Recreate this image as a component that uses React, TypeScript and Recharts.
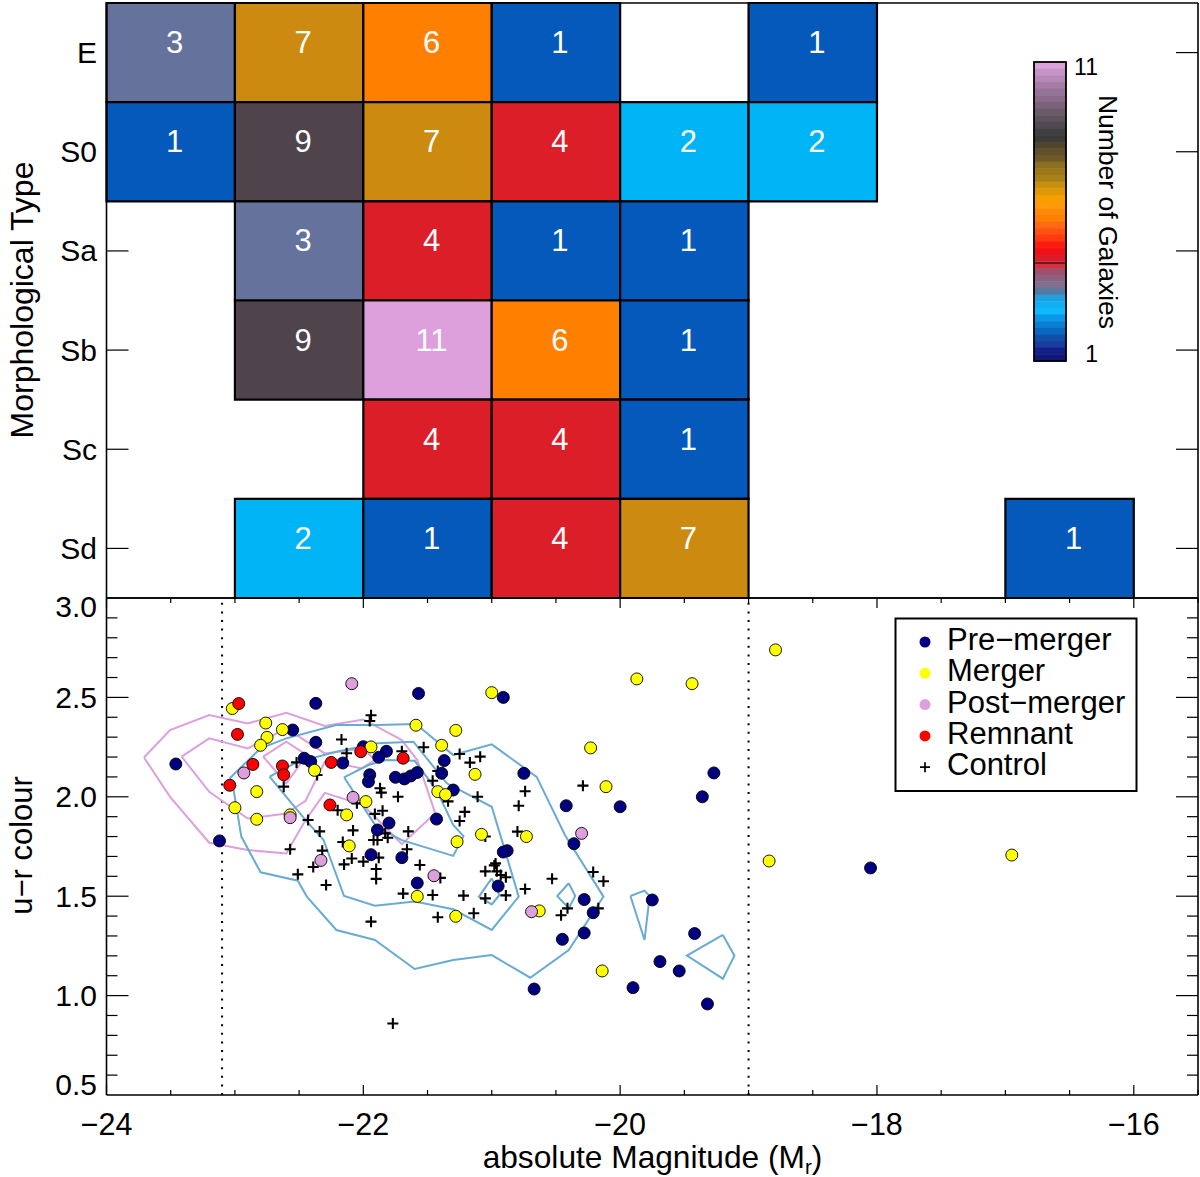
import React from "react";
import { ScatterChart, Scatter, XAxis, YAxis, ReferenceArea, ReferenceLine } from "recharts";

const FONT = "'Liberation Sans', Arial, sans-serif";

// ---- top panel: galaxy counts per magnitude bin and morphological type
const rowLabels = ["E", "S0", "Sa", "Sb", "Sc", "Sd"];
const binEdges = [-24, -23, -22, -21, -20, -19, -18, -17, -16];
const countsE = [3, 7, 6, 1, 0, 1, 0, 0];
const countsS0 = [1, 9, 7, 4, 2, 2, 0, 0];
const countsSa = [0, 3, 4, 1, 1, 0, 0, 0];
const countsSb = [0, 9, 11, 6, 1, 0, 0, 0];
const countsSc = [0, 0, 4, 4, 1, 0, 0, 0];
const countsSd = [0, 2, 1, 4, 7, 0, 0, 1];
const countRows = [countsE, countsS0, countsSa, countsSb, countsSc, countsSd];
const countColors: Record<number, string> = {
  1: "#0459ba", 2: "#00b4f5", 3: "#65729c", 4: "#dc1e28",
  6: "#ff8000", 7: "#cc8a10", 9: "#4f444c", 11: "#dda0dd",
};
const colorbarStrips = [
  "#dca2dc", "#c793c7", "#b688b6", "#a67ca6", "#96749a", "#8a6c8a", "#7a6278", "#6b5a6a", "#5e525c", "#504a50",
  "#404040", "#3c3a38", "#504630", "#615028", "#6e5a28", "#8c6e20", "#9a7818", "#a88018", "#c89010", "#e09808",
  "#f5a000", "#ff9a08", "#ff8a08", "#ff8000", "#ff6a10", "#ff5210", "#ff3a10", "#ff1a10", "#f01018", "#dc1c28",
  "#d83040", "#a05068", "#8f6080", "#807090", "#5878a0", "#20a0e0", "#10b0f0", "#10b8ff", "#0c98e8", "#0a80d4",
  "#0868c0", "#0c50a8", "#183ca0", "#141f88", "#101878",
];

// ---- bottom panel
const preMerger: [number, number][] = [
  [-23.46, 2.165], [-23.12, 1.778], [-22.37, 2.47], [-21.57, 2.52], [-22.55, 2.336], [-22.37, 2.274],
  [-22.0, 2.252], [-21.82, 2.229], [-21.88, 2.199], [-22.46, 2.194], [-22.41, 2.177], [-22.16, 2.17],
  [-21.37, 2.182], [-21.95, 2.111], [-21.96, 2.076], [-21.75, 2.098], [-21.68, 2.09], [-21.63, 2.105],
  [-21.58, 2.122], [-21.39, 2.118], [-21.3, 2.034], [-21.8, 1.868], [-21.89, 1.833], [-21.43, 1.888],
  [-21.94, 1.709], [-21.7, 1.694], [-21.58, 1.566], [-20.91, 2.5], [-20.75, 2.118], [-20.42, 1.955],
  [-20.0, 1.95], [-19.27, 2.12], [-19.36, 2.0], [-20.36, 1.764], [-20.88, 1.729], [-20.91, 1.722],
  [-20.95, 1.551], [-20.28, 1.483], [-20.21, 1.417], [-20.28, 1.315], [-20.45, 1.283], [-19.75, 1.481],
  [-19.42, 1.312], [-19.69, 1.171], [-19.54, 1.124], [-19.9, 1.04], [-20.67, 1.033], [-19.32, 0.958],
  [-18.05, 1.642],
];
const merger: [number, number][] = [
  [-23.02, 2.444], [-22.76, 2.371], [-22.63, 2.338], [-22.75, 2.299], [-22.8, 2.259], [-21.94, 2.251],
  [-21.59, 2.36], [-21.28, 2.334], [-21.39, 2.259], [-21.13, 2.113], [-22.38, 2.133], [-22.83, 2.026],
  [-23.0, 1.945], [-22.83, 1.887], [-22.57, 1.909], [-22.13, 1.909], [-21.98, 1.976], [-21.42, 2.026],
  [-21.36, 2.011], [-22.11, 1.753], [-21.08, 1.811], [-21.27, 1.774], [-21.58, 1.499], [-21.28, 1.399],
  [-21.0, 2.524], [-19.87, 2.593], [-19.44, 2.569], [-18.79, 2.739], [-20.23, 2.246], [-20.11, 2.051],
  [-20.73, 1.8], [-20.63, 1.426], [-20.14, 1.124], [-18.84, 1.677], [-16.95, 1.707],
];
const postMerger: [number, number][] = [
  [-22.09, 2.569], [-22.93, 2.12], [-22.57, 1.895], [-22.08, 1.997], [-22.33, 1.68], [-21.45, 1.603],
  [-20.3, 1.816], [-20.69, 1.422],
];
const remnant: [number, number][] = [
  [-22.97, 2.469], [-22.98, 2.314], [-22.86, 2.163], [-22.63, 2.155], [-22.62, 2.111], [-23.04, 2.058],
  [-22.25, 2.173], [-22.02, 2.227], [-21.69, 2.194], [-22.26, 1.959],
];
const control: [number, number][] = [
  [-21.94, 2.41], [-21.95, 2.381], [-22.17, 2.288], [-21.53, 2.249], [-21.7, 2.229], [-22.13, 2.219],
  [-21.25, 2.215], [-21.17, 2.172], [-21.09, 2.202], [-22.52, 2.173], [-22.36, 2.11], [-22.62, 2.051],
  [-21.87, 2.043], [-21.86, 2.021], [-21.73, 2.0], [-21.46, 2.081], [-21.42, 2.13], [-21.34, 1.977],
  [-21.11, 2.0], [-21.21, 1.924], [-21.25, 1.878], [-21.05, 1.8], [-22.05, 1.967], [-22.2, 1.932],
  [-21.85, 1.93], [-21.91, 1.914], [-22.43, 1.883], [-22.34, 1.826], [-22.08, 1.831], [-21.65, 1.826],
  [-22.16, 1.773], [-21.92, 1.783], [-21.89, 1.783], [-21.83, 1.816], [-21.81, 1.794], [-22.32, 1.729],
  [-21.66, 1.736], [-22.57, 1.736], [-21.88, 1.694], [-22.09, 1.69], [-22.0, 1.674], [-22.15, 1.66],
  [-22.39, 1.647], [-21.9, 1.637], [-21.56, 1.657], [-22.51, 1.61], [-21.9, 1.587], [-22.29, 1.556],
  [-21.4, 1.592], [-21.69, 1.513], [-21.46, 1.506], [-21.22, 1.503], [-21.05, 1.489], [-21.14, 1.414],
  [-21.42, 1.394], [-21.94, 1.372], [-20.97, 1.665], [-20.98, 1.655], [-21.05, 1.625], [-20.96, 1.625],
  [-20.93, 1.607], [-20.89, 1.595], [-20.89, 1.504], [-20.74, 2.028], [-20.79, 1.955], [-20.8, 1.825],
  [-20.29, 2.056], [-20.53, 1.588], [-20.74, 1.536], [-20.21, 1.622], [-20.13, 1.575], [-20.41, 1.439],
  [-20.46, 1.404], [-20.17, 1.439], [-21.77, 0.86],
];

const plumContours: [number, number][][] = [
  [
    [-23.708, 2.198], [-23.505, 2.336], [-23.2, 2.411], [-22.9, 2.369], [-22.6, 2.423], [-22.3, 2.356],
    [-21.999, 2.389], [-21.7, 2.285], [-21.58, 2.185], [-21.44, 1.917], [-21.7, 1.762], [-22.0, 1.958],
    [-22.3, 2.02], [-22.45, 1.883], [-22.6, 1.715], [-22.9, 1.732], [-23.2, 1.769], [-23.505, 2.0],
    [-23.708, 2.198],
  ],
  [
    [-23.415, 2.202], [-23.2, 2.294], [-22.9, 2.243], [-22.6, 2.344], [-22.3, 2.218], [-22.0, 2.243],
    [-21.91, 2.185], [-22.01, 2.143], [-22.14, 2.16], [-22.3, 2.176], [-22.45, 1.98], [-22.6, 1.916],
    [-22.9, 1.891], [-23.2, 2.025], [-23.415, 2.202],
  ],
  [[-22.78, 2.202], [-22.6, 2.277], [-22.44, 2.21], [-22.6, 2.067], [-22.78, 2.202]],
];
const blueContours: [number, number][][] = [
  [
    [-23.04, 2.093], [-22.8, 2.244], [-22.6, 2.294], [-22.21, 2.361], [-21.89, 2.361], [-21.59, 2.366],
    [-21.3, 2.21], [-21.0, 2.264], [-20.65, 2.1], [-20.43, 1.808], [-20.13, 1.498], [-20.4, 1.229],
    [-20.7, 1.09], [-21.0, 1.204], [-21.3, 1.179], [-21.6, 1.134], [-21.91, 1.28], [-22.21, 1.33],
    [-22.44, 1.498], [-22.51, 1.578], [-22.8, 1.62], [-22.95, 1.8], [-23.01, 2.034], [-23.04, 2.093],
  ],
  [
    [-22.73, 2.101], [-22.52, 2.173], [-22.21, 2.227], [-21.89, 2.269], [-21.61, 2.277], [-21.35, 2.068],
    [-21.0, 1.95], [-20.91, 1.758], [-20.79, 1.498], [-21.0, 1.33], [-21.3, 1.434], [-21.6, 1.473],
    [-21.91, 1.452], [-22.15, 1.501], [-22.31, 1.783], [-22.44, 1.875], [-22.73, 2.101],
  ],
  [
    [-22.15, 2.098], [-21.96, 2.16], [-21.82, 2.185], [-21.6, 2.181], [-21.43, 2.034], [-21.3, 1.858],
    [-21.22, 1.802], [-21.3, 1.703], [-21.7, 1.782], [-21.9, 1.85], [-22.15, 2.098],
  ],
  [[-21.0, 1.59], [-21.1, 1.498], [-21.0, 1.459], [-20.94, 1.506], [-21.0, 1.59]],
  [[-20.4, 1.565], [-20.49, 1.501], [-20.4, 1.439], [-20.35, 1.501], [-20.4, 1.565]],
  [[-19.92, 1.501], [-19.81, 1.528], [-19.77, 1.501], [-19.81, 1.28], [-19.92, 1.501]],
  [[-19.2, 1.305], [-19.11, 1.201], [-19.2, 1.085], [-19.48, 1.201], [-19.2, 1.305]],
];
const magnitudeLimits = [-23.1, -19];

const xDomain: [number, number] = [-24, -15.5];
const xTicks = [-24, -23.5, -23, -22.5, -22, -21.5, -21, -20.5, -20, -19.5, -19, -18.5, -18, -17.5, -17, -16.5, -16, -15.5];
const xMajor = [-24, -22, -20, -18, -16];
const yTicks = [
  0.5, 0.6, 0.7, 0.8, 0.9, 1.0, 1.1, 1.2, 1.3, 1.4, 1.5, 1.6, 1.7, 1.8, 1.9,
  2.0, 2.1, 2.2, 2.3, 2.4, 2.5, 2.6, 2.7, 2.8, 2.9, 3.0,
];
const yMajor = [0.5, 1.0, 1.5, 2.0, 2.5, 3.0];
const rowTicks = [0.5, 1.5, 2.5, 3.5, 4.5, 5.5];
const legendEntries = [
  { label: "Pre\u2212merger", color: "#000080" },
  { label: "Merger", color: "#ffff00" },
  { label: "Post\u2212merger", color: "#dda0dd" },
  { label: "Remnant", color: "#ff0000" },
  { label: "Control", color: "" },
];

const toPts = (a: [number, number][]) => a.map(([x, y]) => ({ x, y }));
const cells = countRows.flatMap((row, r) =>
  row.map((count, c) => ({ r, c, count, x: (binEdges[c] + binEdges[c + 1]) / 2, y: r + 0.5 })).filter((d) => d.count > 0)
);

const minus = (s: string) => s.replace("-", "\u2212");
const AXIS = "#000";
const axisLine = { stroke: AXIS, strokeWidth: 1.6 };

const dot = (fill: string) => (p: any) => (
  <circle cx={p.cx} cy={p.cy} r={6} fill={fill} stroke="#000" strokeWidth={0.9} />
);
const Plus = (p: any) => (
  <path d={`M${p.cx - 5.5} ${p.cy}H${p.cx + 5.5}M${p.cx} ${p.cy - 5.5}V${p.cy + 5.5}`} stroke="#000" strokeWidth={2.1} fill="none" />
);
const CountText = (p: any) => (
  <text x={p.cx + 4} y={p.cy + 0.5} textAnchor="middle" fontSize={31} fontFamily={FONT} fill="#fff">
    {p.payload.count}
  </text>
);

const BottomXTick = (p: any) => {
  const major = xMajor.includes(p.payload.value);
  return (
    <g>
      <line x1={p.x} x2={p.x} y1={p.y} y2={p.y - (major ? 10 : 5)} stroke={AXIS} strokeWidth={1.2} />
      {major && (
        <text x={p.x} y={p.y + 40} textAnchor="middle" fontSize={30.5} fontFamily={FONT} fill="#000">
          {minus(String(p.payload.value))}
        </text>
      )}
    </g>
  );
};
const TopXTick = (p: any) => {
  const major = xMajor.includes(p.payload.value);
  return <line x1={p.x} x2={p.x} y1={p.y} y2={p.y + (major ? 10 : 5)} stroke={AXIS} strokeWidth={1.2} />;
};
const yLabelShift = (v: number) => (v === 3 ? 18.5 : v === 0.5 ? -0.5 : 10.5);
const LeftYTick = (p: any) => {
  const v = p.payload.value;
  const major = yMajor.includes(v);
  const showTick = v !== 3 && v !== 0.5;
  return (
    <g>
      {showTick && <line x1={p.x} x2={p.x + (major ? 22 : 11)} y1={p.y} y2={p.y} stroke={AXIS} strokeWidth={1.2} />}
      {major && (
        <text x={97} y={p.y + yLabelShift(v)} textAnchor="end" fontSize={30} fontFamily={FONT} fill="#000">
          {v.toFixed(1)}
        </text>
      )}
    </g>
  );
};
const RightYTick = (p: any) => {
  const v = p.payload.value;
  if (v === 3 || v === 0.5) return <g />;
  return <line x1={p.x} x2={p.x - (yMajor.includes(v) ? 22 : 11)} y1={p.y} y2={p.y} stroke={AXIS} strokeWidth={1.2} />;
};
const RowLeftTick = (p: any) => {
  const r = Math.floor(p.payload.value);
  return (
    <g>
      {countRows[r][0] === 0 && <line x1={p.x} x2={p.x + 22} y1={p.y} y2={p.y} stroke={AXIS} strokeWidth={1.2} />}
      <text x={97} y={p.y + 10.5} textAnchor="end" fontSize={30} fontFamily={FONT} fill="#000">
        {rowLabels[r]}
      </text>
    </g>
  );
};
const RowRightTick = (p: any) => (
  <line x1={p.x} x2={p.x - 22} y1={p.y} y2={p.y} stroke={AXIS} strokeWidth={1.2} />
);

const yAxisCommon = { type: "number" as const, dataKey: "y", interval: 0, width: 1, tickSize: 0, tickMargin: 0, tickLine: false, axisLine, allowDataOverflow: true };
const xAxisCommon = { type: "number" as const, dataKey: "x", domain: xDomain, height: 1, axisLine, allowDataOverflow: true };

function TopPanel() {
  return (
    <ScatterChart width={1200} height={600} margin={{ top: 2, right: 1, bottom: 1, left: 105.5 }}>
      <XAxis xAxisId="b" {...xAxisCommon} orientation="bottom" tick={false} tickLine={false} />
      <XAxis xAxisId="t" {...xAxisCommon} orientation="top" tick={false} tickLine={false} />
      <YAxis yAxisId="l" {...yAxisCommon} domain={[0, 6]} reversed ticks={rowTicks} tick={RowLeftTick} />
      <YAxis yAxisId="r" {...yAxisCommon} domain={[0, 6]} reversed orientation="right" ticks={rowTicks} tick={RowRightTick} />
      {cells.map((d) => (
        <ReferenceArea
          key={`${d.r}-${d.c}`}
          xAxisId="b"
          yAxisId="l"
          x1={binEdges[d.c]}
          x2={binEdges[d.c + 1]}
          y1={d.r}
          y2={d.r + 1}
          fill={countColors[d.count]}
          fillOpacity={1}
          stroke="#000"
          strokeWidth={2.2}
        />
      ))}
      <Scatter xAxisId="b" yAxisId="l" data={cells} shape={CountText} isAnimationActive={false} />
    </ScatterChart>
  );
}

function BottomPanel() {
  const ids = { xAxisId: "b", yAxisId: "l" };
  return (
    <ScatterChart width={1200} height={587} margin={{ top: 7, right: 1, bottom: 81, left: 105.5 }}>
      <XAxis xAxisId="b" {...xAxisCommon} ticks={xTicks} interval={0} tickSize={0} tickMargin={0} tickLine={false} tick={BottomXTick} />
      <XAxis xAxisId="t" {...xAxisCommon} orientation="top" ticks={xTicks} interval={0} tickSize={0} tickMargin={0} tickLine={false} tick={TopXTick} />
      <YAxis yAxisId="l" {...yAxisCommon} domain={[0.5, 3]} ticks={yTicks} tick={LeftYTick} />
      <YAxis yAxisId="r" {...yAxisCommon} domain={[0.5, 3]} orientation="right" ticks={yTicks} tick={RightYTick} />
      {magnitudeLimits.map((x) => (
        <ReferenceLine key={x} {...ids} x={x} stroke="#000" strokeWidth={2} strokeDasharray="2 6.6" />
      ))}
      {plumContours.map((c, i) => (
        <Scatter key={`p${i}`} {...ids} data={toPts(c)} line={{ stroke: "#dda0dd", strokeWidth: 2 }} shape={() => null} isAnimationActive={false} />
      ))}
      {blueContours.map((c, i) => (
        <Scatter key={`b${i}`} {...ids} data={toPts(c)} line={{ stroke: "#69abd2", strokeWidth: 2 }} shape={() => null} isAnimationActive={false} />
      ))}
      <Scatter {...ids} name="Control" data={toPts(control)} shape={Plus} isAnimationActive={false} />
      <Scatter {...ids} name="Pre-merger" data={toPts(preMerger)} shape={dot("#000080")} isAnimationActive={false} />
      <Scatter {...ids} name="Merger" data={toPts(merger)} shape={dot("#ffff00")} isAnimationActive={false} />
      <Scatter {...ids} name="Post-merger" data={toPts(postMerger)} shape={dot("#dda0dd")} isAnimationActive={false} />
      <Scatter {...ids} name="Remnant" data={toPts(remnant)} shape={dot("#ff0000")} isAnimationActive={false} />
    </ScatterChart>
  );
}

function Overlay() {
  const stripH = 299 / colorbarStrips.length;
  return (
    <svg width={1200} height={1177} style={{ position: "absolute", left: 0, top: 0, pointerEvents: "none" }} fontFamily={FONT}>
      {/* colour bar */}
      {colorbarStrips.map((c, i) => (
        <rect key={i} x={1034} y={62 + i * stripH} width={32} height={stripH + 0.5} fill={c} />
      ))}
      <line x1={1034} x2={1066} y1={263} y2={263} stroke="#000" strokeWidth={1} />
      <rect x={1034} y={62} width={32} height={299} fill="none" stroke="#000" strokeWidth={1.8} />
      <text x={1098} y={75} textAnchor="end" fontSize={23} fill="#000">11</text>
      <text x={1098} y={362} textAnchor="end" fontSize={23} fill="#000">1</text>
      <text transform="translate(1099,212) rotate(90)" textAnchor="middle" fontSize={26.5} fill="#000">Number of Galaxies</text>

      {/* axis titles */}
      <text transform="translate(33,300) rotate(-90)" textAnchor="middle" fontSize={32} fill="#000">Morphological Type</text>
      <text transform="translate(32,845.5) rotate(-90)" textAnchor="middle" fontSize={31} fill="#000">u{"\u2212"}r colour</text>
      <text x={652.5} y={1168} textAnchor="middle" fontSize={31.7} fill="#000">
        absolute Magnitude (M<tspan fontSize={20.5} dy={6}>r</tspan><tspan dy={-6}>)</tspan>
      </text>

      {/* legend */}
      <rect x={895.5} y={618.5} width={241} height={172.5} fill="#fff" stroke="#000" strokeWidth={2} />
      {legendEntries.map((e, i) => {
        const y = 642 + i * 31.3;
        return (
          <g key={e.label}>
            {e.color ? (
              <circle cx={925} cy={y} r={5.5} fill={e.color} />
            ) : (
              <path d={`M${920} ${y}H${930}M${925} ${y - 5}V${y + 5}`} stroke="#000" strokeWidth={1.7} />
            )}
            <text x={947} y={y + 8} fontSize={31} fill="#000">{e.label}</text>
          </g>
        );
      })}
    </svg>
  );
}

export default function App() {
  return (
    <div style={{ position: "absolute", left: 0, top: 0, width: 1200, height: 1177, background: "#fff", overflow: "hidden" }}>
      <div style={{ position: "absolute", left: 0, top: 0 }}>
        <TopPanel />
      </div>
      <div style={{ position: "absolute", left: 0, top: 590 }}>
        <BottomPanel />
      </div>
      <Overlay />
    </div>
  );
}
